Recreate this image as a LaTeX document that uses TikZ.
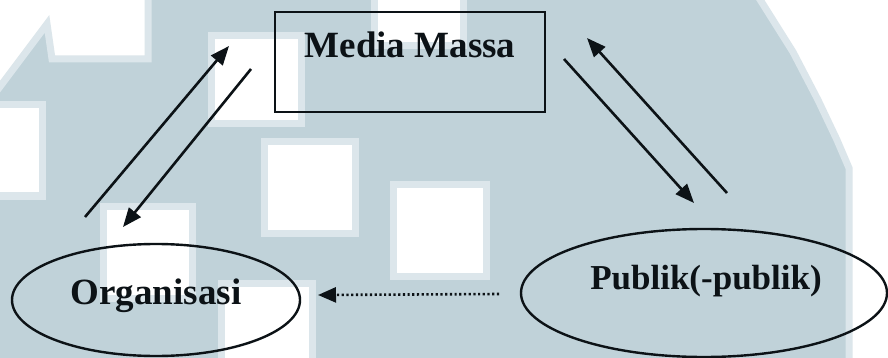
\documentclass[tikz,border=0pt]{standalone}
\usepackage{fontspec}
\setmainfont{Liberation Serif}
\usetikzlibrary{arrows.meta,shapes.geometric}
\definecolor{wmgray}{RGB}{192,210,217}
\definecolor{wmedge}{RGB}{220,230,235}
\definecolor{ink}{RGB}{12,18,22}

\begin{document}
\begin{tikzpicture}[x=1pt,y=-1pt,
  tile/.style={fill=white, draw=wmedge, line width=7pt, line join=miter},
  frame/.style={draw=ink, line width=2.4pt, inner sep=0pt},
  lbl/.style={font=\bfseries\fontsize{37}{40}\selectfont, text=ink, inner sep=0pt, anchor=base},
  link/.style={draw=ink, line width=2.6pt, -{Triangle[length=19pt,width=15pt]}},
  weak/.style={draw=ink, line width=2.6pt, dash pattern=on 2.2pt off 2.5pt,
    -{Triangle[length=18pt,width=15pt]}}]

% canvas and watermark tiles
\useasboundingbox (0,0) rectangle (888,358);
\fill[wmgray] (0,0) rectangle (888,358);
\begin{scope}
\clip (0,0) rectangle (888,358);
\path[tile] (-10,-10) -- (148,-10) -- (148,59) -- (52,59) -- (47,24) -- (-10,100) -- cycle;
\path[tile] (-10,105) rectangle (42,196);
\path[tile] (374,-10) rectangle (463,46);
\path[tile] (211,36) rectangle (301,124);
\path[tile] (264,142) rectangle (355,233);
\path[tile] (103,206) rectangle (192,298);
\path[tile] (221,283) rectangle (312,370);
\path[tile] (393,185) rectangle (486,276);
\path[tile] (754,-10) -- (900,-10) -- (900,370) -- (849,370) -- (849,168)
  -- (837,140) -- (818,100) -- (793,52) -- cycle;
\end{scope}

% nodes
\node[frame, rectangle, minimum width=270pt, minimum height=100pt] (media) at (410,62) {};
\node[lbl] (mediatext) at (410,58) {Media Massa};

\node[frame, ellipse, minimum width=288pt, minimum height=112pt] (org) at (156,300) {};
\node[lbl] (orgtext) at (156,304) {Organisasi};

\node[frame, ellipse, minimum width=366pt, minimum height=128pt] (pub) at (704,293) {};
\node[lbl, font=\bfseries\fontsize{35}{38}\selectfont] (pubtext) at (706,289) {Publik(-publik)};

% connector end points
\coordinate (orgup) at (85,217);
\coordinate (mediain) at (229,46);
\coordinate (mediaout) at (251,69);
\coordinate (orgin) at (123,227);
\coordinate (mediadown) at (564,59);
\coordinate (pubin) at (694,203);
\coordinate (pubup) at (727,193);
\coordinate (mediaback) at (587,38);
\coordinate (publeft) at (499,294);
\coordinate (orgright) at (318,295);

% connectors
\draw[link] (orgup) -- (mediain);
\draw[link] (mediaout) -- (orgin);
\draw[link] (mediadown) -- (pubin);
\draw[link] (pubup) -- (mediaback);
\draw[weak] (publeft) -- (orgright);
\end{tikzpicture}
\end{document}
